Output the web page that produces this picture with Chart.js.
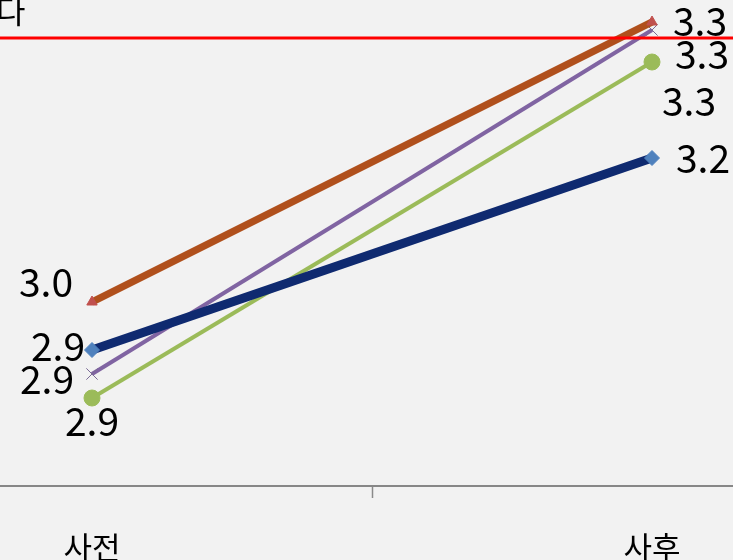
<!DOCTYPE html>
<html>
<head>
<meta charset="utf-8">
<script src="https://cdn.jsdelivr.net/npm/chart.js@4/dist/chart.umd.min.js"></script>
<style>
  html, body { margin: 0; padding: 0; background: #f2f2f2; }
  #frame { position: relative; width: 733px; height: 560px; overflow: hidden; background: #f2f2f2; }
  #wrap { position: absolute; left: -188px; top: -34px; width: 1120px; height: 620px; }
</style>
</head>
<body>
<div id="frame"><div id="wrap"><canvas id="c"></canvas></div></div>
<script>
// Categories and series (pre / post scores)
const categories = ['사전', '사후'];
const navySeries   = [2.92, 3.16];
const orangeSeries = [2.98, 3.33];
const purpleSeries = [2.89, 3.32];
const greenSeries  = [2.86, 3.28];
// Horizontal reference level
const referenceLevel = [3.31];
// Heading fragment shown at the top-left
const headingText = ['다'];

const FONT = '"Noto Sans CJK KR", "Noto Sans", sans-serif';

// Value labels next to each point, offset from the point (styling only)
const valueLabels = {
  id: 'valueLabels',
  afterDraw(chart) {
    const ctx = chart.ctx;
    ctx.save();
    ctx.fillStyle = '#000';
    ctx.font = '39px ' + FONT;
    ctx.textAlign = 'center';
    ctx.textBaseline = 'middle';
    chart.data.datasets.forEach((ds, i) => {
      const meta = chart.getDatasetMeta(i);
      if (!ds.labelOffsets) return;
      meta.data.forEach((pt, j) => {
        const [dx, dy] = ds.labelOffsets[j];
        ctx.fillText(Number(ds.data[j]).toFixed(1), pt.x + dx, pt.y + dy);
      });
    });
    // heading fragment
    ctx.font = '32px ' + FONT;
    ctx.textAlign = 'left';
    ctx.textBaseline = 'alphabetic';
    ctx.fillText(headingText[0], chart.chartArea.left + 184, chart.chartArea.top + 57);
    ctx.restore();
  }
};

// Red reference line across the plot
const referenceLine = {
  id: 'referenceLine',
  afterDatasetsDraw(chart) {
    const { ctx, chartArea, scales } = chart;
    const y = scales.y.getPixelForValue(referenceLevel[0]);
    ctx.save();
    ctx.strokeStyle = '#ff0000';
    ctx.lineWidth = 3;
    ctx.beginPath();
    ctx.moveTo(chartArea.left, y);
    ctx.lineTo(chartArea.right, y);
    ctx.stroke();
    ctx.restore();
  }
};

new Chart(document.getElementById('c'), {
  type: 'line',
  data: {
    labels: categories,
    datasets: [
      {
        data: navySeries,
        borderColor: '#0f2a70',
        borderWidth: 9,
        pointStyle: 'rectRot',
        pointRadius: 7.5,
        pointBackgroundColor: '#4f81bd',
        pointBorderColor: '#4f81bd',
        pointBorderWidth: 1,
        labelOffsets: [[-34, -4], [51, 0]]
      },
      {
        data: orangeSeries,
        borderColor: '#b0501c',
        borderWidth: 7,
        pointStyle: 'triangle',
        pointRadius: 6,
        pointBackgroundColor: '#c0504d',
        pointBorderColor: '#c0504d',
        pointBorderWidth: 1,
        labelOffsets: [[-46, -20], [48, -1]]
      },
      {
        data: purpleSeries,
        borderColor: '#8064a2',
        borderWidth: 4,
        pointStyle: 'crossRot',
        pointRadius: 8,
        pointBackgroundColor: '#7a6a95',
        pointBorderColor: '#7a6a95',
        pointBorderWidth: 1,
        labelOffsets: [[-45, 5], [50, 24]]
      },
      {
        data: greenSeries,
        borderColor: '#9bbb59',
        borderWidth: 4,
        pointStyle: 'circle',
        pointRadius: 8,
        pointBackgroundColor: '#9bbb59',
        pointBorderColor: '#9bbb59',
        pointBorderWidth: 1,
        labelOffsets: [[0, 23], [37, 39]]
      }
    ]
  },
  options: {
    responsive: true,
    maintainAspectRatio: false,
    animation: false,
    layout: { padding: 0, autoPadding: false },
    plugins: { legend: { display: false }, tooltip: { enabled: false }, title: { display: false } },
    elements: { line: { tension: 0 } },
    scales: {
      x: {
        offset: true,
        afterFit(scale) { scale.height = 100; },
        grid: {
          offset: true,
          drawOnChartArea: false,
          drawTicks: true,
          tickLength: 12,
          tickWidth: 1.5,
          tickColor: '#8a8a8a'
        },
        border: { display: true, color: '#878787', width: 2 },
        ticks: {
          color: '#000',
          font: { family: FONT, size: 31 },
          padding: 31
        }
      },
      y: {
        display: false,
        min: 2.75,
        max: 3.40
      }
    }
  },
  plugins: [referenceLine, valueLabels]
});
</script>
</body>
</html>
